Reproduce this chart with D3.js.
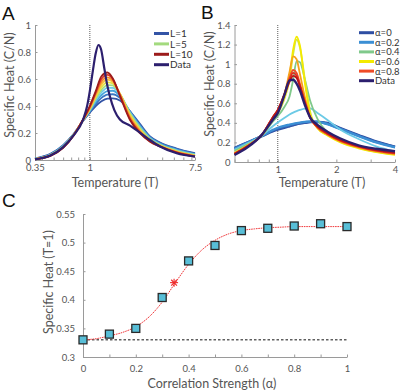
<!DOCTYPE html>
<html>
<head>
<meta charset="utf-8">
<script src="https://cdn.jsdelivr.net/npm/d3@7"></script>
<style>
  body { margin: 0; background: #fff; }
</style>
</head>
<body>
<svg id="fig" width="415" height="391"></svg>
<script>
// ---- panel A : specific heat vs temperature, model with L = 1..10 ----
var tempA = [0.35, 0.47, 0.6, 0.73, 0.88, 1.0, 1.12, 1.25, 1.4, 1.55, 1.78, 2.16, 2.6, 3.17, 3.84, 5.28, 7.5];
var heatA = [
    [0.012, 0.045, 0.11, 0.19, 0.29, 0.35, 0.40, 0.435, 0.455, 0.457, 0.44, 0.36, 0.27, 0.175, 0.13, 0.085, 0.05],
    [0.011, 0.043, 0.107, 0.188, 0.292, 0.357, 0.415, 0.46, 0.485, 0.487, 0.46, 0.36, 0.26, 0.17, 0.125, 0.08, 0.046],
    [0.010, 0.041, 0.104, 0.186, 0.294, 0.363, 0.43, 0.48, 0.51, 0.513, 0.475, 0.355, 0.255, 0.165, 0.12, 0.076, 0.043],
    [0.009, 0.039, 0.101, 0.185, 0.295, 0.368, 0.443, 0.50, 0.535, 0.535, 0.485, 0.35, 0.245, 0.16, 0.115, 0.072, 0.04],
    [0.008, 0.037, 0.099, 0.184, 0.296, 0.373, 0.455, 0.52, 0.555, 0.552, 0.49, 0.345, 0.24, 0.155, 0.112, 0.068, 0.037],
    [0.007, 0.035, 0.097, 0.183, 0.297, 0.378, 0.467, 0.54, 0.575, 0.567, 0.49, 0.335, 0.23, 0.15, 0.108, 0.064, 0.034],
    [0.007, 0.034, 0.095, 0.182, 0.298, 0.383, 0.478, 0.56, 0.595, 0.58, 0.49, 0.325, 0.222, 0.146, 0.105, 0.061, 0.031],
    [0.006, 0.033, 0.093, 0.181, 0.299, 0.388, 0.489, 0.58, 0.612, 0.59, 0.485, 0.315, 0.215, 0.142, 0.103, 0.058, 0.029],
    [0.006, 0.032, 0.091, 0.18, 0.30, 0.394, 0.50, 0.60, 0.63, 0.60, 0.48, 0.305, 0.207, 0.139, 0.101, 0.056, 0.027],
    [0.005, 0.030, 0.090, 0.18, 0.30, 0.40, 0.51, 0.62, 0.648, 0.605, 0.475, 0.296, 0.20, 0.136, 0.10, 0.055, 0.025]
];
var colorsA = ['#3354a6', '#3b76c3', '#45a3dc', '#6fcbe6', '#a3da7e', '#e4e24a', '#f8c23a', '#f38a2a', '#e0392a', '#9c1b1b'];
var tempDataA = [0.35, 0.47, 0.6, 0.73, 0.88, 0.95, 1.0, 1.06, 1.12, 1.18, 1.24, 1.32, 1.4, 1.47, 1.6, 1.78, 2.16, 2.6, 3.17, 3.84, 5.28, 7.5];
var dataA = [0.005, 0.033, 0.095, 0.18, 0.30, 0.40, 0.51, 0.66, 0.79, 0.852, 0.82, 0.68, 0.55, 0.47, 0.37, 0.30, 0.255, 0.205, 0.148, 0.10, 0.05, 0.025];
var legendA = [['L=1', 0], ['L=5', 4], ['L=10', 9]];

// ---- panel B : specific heat vs temperature, alpha = 0..1 ----
var tempB = [0.6, 0.7, 0.83, 0.95, 1.0, 1.08, 1.15, 1.2, 1.25, 1.3, 1.38, 1.47, 1.6, 1.8, 2.1, 2.6, 3.2, 4.0];
var alphaB = [0, 0.1, 0.2, 0.3, 0.4, 0.5, 0.6, 0.7, 0.8, 0.9, 1.0];
var heatB = [
    [0.145, 0.20, 0.265, 0.315, 0.33, 0.35, 0.365, 0.375, 0.385, 0.392, 0.40, 0.407, 0.41, 0.40, 0.345, 0.275, 0.21, 0.157],
    [0.14, 0.198, 0.266, 0.322, 0.34, 0.36, 0.373, 0.382, 0.39, 0.397, 0.405, 0.41, 0.41, 0.39, 0.34, 0.27, 0.205, 0.153],
    [0.135, 0.196, 0.267, 0.33, 0.35, 0.37, 0.382, 0.39, 0.397, 0.403, 0.41, 0.415, 0.412, 0.387, 0.335, 0.265, 0.2, 0.15],
    [0.125, 0.19, 0.27, 0.37, 0.404, 0.45, 0.485, 0.505, 0.52, 0.532, 0.545, 0.548, 0.50, 0.43, 0.33, 0.235, 0.16, 0.108],
    [0.115, 0.18, 0.27, 0.42, 0.468, 0.56, 0.67, 0.84, 1.03, 1.02, 0.84, 0.62, 0.44, 0.30, 0.21, 0.148, 0.106, 0.08],
    [0.095, 0.17, 0.275, 0.44, 0.495, 0.64, 0.84, 1.10, 1.25, 1.17, 0.84, 0.51, 0.35, 0.275, 0.205, 0.145, 0.103, 0.077],
    [0.09, 0.165, 0.275, 0.455, 0.521, 0.66, 0.88, 1.15, 1.28, 1.19, 0.80, 0.48, 0.345, 0.27, 0.2, 0.14, 0.1, 0.073],
    [0.088, 0.165, 0.277, 0.46, 0.525, 0.68, 0.92, 1.08, 1.05, 0.90, 0.66, 0.46, 0.35, 0.28, 0.21, 0.15, 0.108, 0.082],
    [0.085, 0.163, 0.278, 0.465, 0.529, 0.69, 0.86, 0.94, 0.91, 0.80, 0.62, 0.45, 0.355, 0.285, 0.215, 0.155, 0.113, 0.087],
    [0.083, 0.162, 0.279, 0.468, 0.533, 0.69, 0.84, 0.91, 0.88, 0.78, 0.61, 0.45, 0.36, 0.29, 0.22, 0.16, 0.118, 0.092],
    [0.082, 0.16, 0.279, 0.465, 0.528, 0.68, 0.82, 0.88, 0.86, 0.77, 0.60, 0.45, 0.365, 0.295, 0.225, 0.163, 0.122, 0.096]
];
var colorsB = ['#2e4ea2', '#3562b2', '#3b8fd4', '#6ccae6', '#80c98b', '#cfe34a', '#f4ea00', '#f6a21c', '#ef4b26', '#dc2c1e', '#bb1717'];
var dataB = [0.072, 0.15, 0.28, 0.44, 0.50, 0.68, 0.835, 0.84, 0.80, 0.73, 0.58, 0.45, 0.38, 0.31, 0.24, 0.17, 0.135, 0.11];
var legendB = [['α=0', 0], ['α=0.2', 2], ['α=0.4', 4], ['α=0.6', 6], ['α=0.8', 8]];
var dataColor = '#2c1f6e';

// ---- panel C : specific heat at T=1 vs correlation strength ----
var alphaC = [0, 0.1, 0.2, 0.3, 0.4, 0.5, 0.6, 0.7, 0.8, 0.9, 1.0];
var heatC = [0.33, 0.34, 0.35, 0.404, 0.468, 0.495, 0.521, 0.525, 0.529, 0.533, 0.528];
var fitAlpha = [0, 0.05, 0.1, 0.15, 0.2, 0.25, 0.3, 0.35, 0.4, 0.45, 0.5, 0.55, 0.6, 0.65, 0.7, 0.75, 0.8, 0.9, 1.0];
var fitHeat = [0.330, 0.332, 0.337, 0.343, 0.353, 0.370, 0.396, 0.430, 0.462, 0.487, 0.504, 0.515, 0.521, 0.524, 0.526, 0.527, 0.528, 0.528, 0.528];
var starC = [0.345, 0.43];
var baselineC = 0.33;

var svg = d3.select('#fig');
var font = 'Lato, "Open Sans", sans-serif';
var axisGray = '#9a9a9a', textGray = '#555';

function styleAxis(g) {
    g.attr('font-family', font).attr('font-size', 9.5);
    g.select('.domain').attr('stroke', axisGray);
    g.selectAll('.tick line').attr('stroke', axisGray);
    g.selectAll('.tick text').attr('fill', textGray);
}

function panelLetter(txt, x, y) {
    svg.append('text').attr('x', x).attr('y', y).text(txt)
        .attr('font-family', 'Liberation Sans, Arial, sans-serif').attr('font-size', 19).attr('fill', '#111');
}

function axisLabel(txt, x, y, rotate) {
    var t = svg.append('text').text(txt)
        .attr('font-family', font).attr('font-size', 12.5).attr('fill', textGray)
        .attr('text-anchor', 'middle');
    if (rotate) t.attr('transform', 'translate(' + x + ',' + y + ') rotate(-90)');
    else t.attr('x', x).attr('y', y);
}

function legend(items, x0, y0, dy, size) {
    var g = svg.append('g');
    items.forEach(function (it, i) {
        g.append('line').attr('x1', x0).attr('x2', x0 + 15)
            .attr('y1', y0 + i * dy).attr('y2', y0 + i * dy)
            .attr('stroke', it[1]).attr('stroke-width', 3);
        g.append('text').attr('x', x0 + 16).attr('y', y0 + i * dy + size * 0.36)
            .text(it[0]).attr('font-family', font).attr('font-size', size).attr('fill', '#333');
    });
}

// ================= A =================
(function () {
    var x = d3.scaleLog().domain([0.35, 7.5]).range([35, 195]);
    var y = d3.scaleLinear().domain([0, 1]).range([160, 25]);
    var line = d3.line().x(function (d) { return x(d[0]); }).y(function (d) { return y(d[1]); })
        .curve(d3.curveMonotoneX);

    var xa = d3.axisBottom(x)
        .tickValues([0.35, 0.4, 0.5, 0.6, 0.7, 0.8, 0.9, 1, 2, 3, 4, 5, 6, 7, 7.5])
        .tickFormat(function (d) { return (d === 0.35 || d === 1 || d === 7.5) ? d : ''; })
        .tickSize(-2.5).tickSizeOuter(0).tickPadding(4.5);
    svg.append('g').attr('transform', 'translate(0,160)').call(xa).call(styleAxis);
    var ya = d3.axisLeft(y).tickValues([0, 0.2, 0.4, 0.6, 0.8, 1])
        .tickFormat(d3.format('~g')).tickSize(-2.5).tickSizeOuter(0).tickPadding(4);
    svg.append('g').attr('transform', 'translate(35,0)').call(ya).call(styleAxis);

    // T = 1 marker
    svg.append('line').attr('x1', x(1)).attr('x2', x(1)).attr('y1', y(0)).attr('y2', y(1))
        .attr('stroke', '#777').attr('stroke-width', 1.2).attr('stroke-dasharray', '1,1');

    svg.append('g').selectAll('path').data(heatA).enter().append('path')
        .attr('d', function (vals) { return line(tempA.map(function (t, i) { return [t, vals[i]]; })); })
        .attr('fill', 'none').attr('stroke', function (d, i) { return colorsA[i]; })
        .attr('stroke-width', 1.8);
    svg.append('path').attr('d', line(tempDataA.map(function (t, i) { return [t, dataA[i]]; })))
        .attr('fill', 'none').attr('stroke', dataColor).attr('stroke-width', 2.2);

    var items = legendA.map(function (l) { return [l[0], colorsA[l[1]]]; });
    items.push(['Data', dataColor]);
    legend(items, 154, 33.5, 10.4, 10);

    panelLetter('A', 2, 20);
    axisLabel('Temperature (T)', 115, 187, false);
    axisLabel('Specific Heat (C/N)', 14, 85, true);
})();

// ================= B =================
(function () {
    var x = d3.scaleLog().domain([0.6, 4]).range([234.5, 395]);
    var y = d3.scaleLinear().domain([0, 1.4]).range([162, 25]);
    var line = d3.line().x(function (d) { return x(d[0]); }).y(function (d) { return y(d[1]); })
        .curve(d3.curveMonotoneX);

    var xa = d3.axisBottom(x)
        .tickValues([0.6, 0.7, 0.8, 0.9, 1, 2, 3, 4])
        .tickFormat(function (d) { return (d === 1 || d === 2 || d === 4) ? d : ''; })
        .tickSize(-2.5).tickSizeOuter(0).tickPadding(4);
    svg.append('g').attr('transform', 'translate(0,162)').call(xa).call(styleAxis);
    var ya = d3.axisLeft(y).tickValues([0, 0.2, 0.4, 0.6, 0.8, 1, 1.2, 1.4])
        .tickFormat(d3.format('~g')).tickSize(-2.5).tickSizeOuter(0).tickPadding(4);
    svg.append('g').attr('transform', 'translate(234.5,0)').call(ya).call(styleAxis);

    svg.append('line').attr('x1', x(1)).attr('x2', x(1)).attr('y1', y(0)).attr('y2', y(1.4))
        .attr('stroke', '#777').attr('stroke-width', 1.2).attr('stroke-dasharray', '1,1');

    svg.append('g').selectAll('path').data(heatB).enter().append('path')
        .attr('d', function (vals) { return line(tempB.map(function (t, i) { return [t, vals[i]]; })); })
        .attr('fill', 'none').attr('stroke', function (d, i) { return colorsB[i]; })
        .attr('stroke-width', function (d, i) { return i < 3 ? 2.4 : 1.8; });
    svg.append('path').attr('d', line(tempB.map(function (t, i) { return [t, dataB[i]]; })))
        .attr('fill', 'none').attr('stroke', dataColor).attr('stroke-width', 2.4);

    var items = legendB.map(function (l) { return [l[0], colorsB[l[1]]]; });
    items.push(['Data', dataColor]);
    legend(items, 359, 32.7, 9.6, 9.5);

    panelLetter('B', 201, 19);
    axisLabel('Temperature (T)', 322, 187, false);
    axisLabel('Specific Heat (C/N)', 214, 84, true);
})();

// ================= C =================
(function () {
    var x = d3.scaleLinear().domain([0, 1]).range([83, 347]);
    var y = d3.scaleLinear().domain([0.3, 0.55]).range([357, 214]);

    var xa = d3.axisBottom(x).tickValues(d3.range(0, 11).map(function (i) { return i / 10; }))
        .tickFormat(function (d, i) { return i % 2 === 0 ? d3.format('~g')(d) : ''; })
        .tickSize(-2.5).tickSizeOuter(0).tickPadding(8);
    svg.append('g').attr('transform', 'translate(0,357)').call(xa).call(styleAxis);
    var ya = d3.axisLeft(y).tickValues([0.3, 0.35, 0.4, 0.45, 0.5, 0.55])
        .tickFormat(d3.format('~g')).tickSize(-2.5).tickSizeOuter(0).tickPadding(8);
    svg.append('g').attr('transform', 'translate(83,0)').call(ya).call(styleAxis);

    // baseline (alpha = 0 level)
    svg.append('line').attr('x1', x(0)).attr('x2', x(1)).attr('y1', y(baselineC)).attr('y2', y(baselineC))
        .attr('stroke', '#111').attr('stroke-width', 1).attr('stroke-dasharray', '2.5,2');

    // fitted curve
    var line = d3.line().x(function (d) { return x(d[0]); }).y(function (d) { return y(d[1]); })
        .curve(d3.curveMonotoneX);
    svg.append('path').attr('d', line(fitAlpha.map(function (a, i) { return [a, fitHeat[i]]; })))
        .attr('fill', 'none').attr('stroke', '#f0393c').attr('stroke-width', 1)
        .attr('stroke-dasharray', '1.6,0.8');

    // midpoint star
    var sx = x(starC[0]), sy = y(starC[1]), r = 4;
    var star = svg.append('g').attr('stroke', '#ee2a2a').attr('stroke-width', 1.1);
    [[r, 0], [0, r], [r * 0.72, r * 0.72], [r * 0.72, -r * 0.72]].forEach(function (v) {
        star.append('line').attr('x1', sx - v[0]).attr('y1', sy - v[1]).attr('x2', sx + v[0]).attr('y2', sy + v[1]);
    });

    svg.append('g').selectAll('rect').data(alphaC).enter().append('rect')
        .attr('x', function (d) { return x(d) - 4; })
        .attr('y', function (d, i) { return y(heatC[i]) - 4; })
        .attr('width', 8).attr('height', 8)
        .attr('fill', '#58bed7').attr('stroke', '#2a2a2a').attr('stroke-width', 1.3);

    panelLetter('C', 2, 207);
    axisLabel('Correlation Strength (α)', 212, 388, false);
    axisLabel('Specific Heat (T=1)', 53, 282, true);
})();
</script>
</body>
</html>
